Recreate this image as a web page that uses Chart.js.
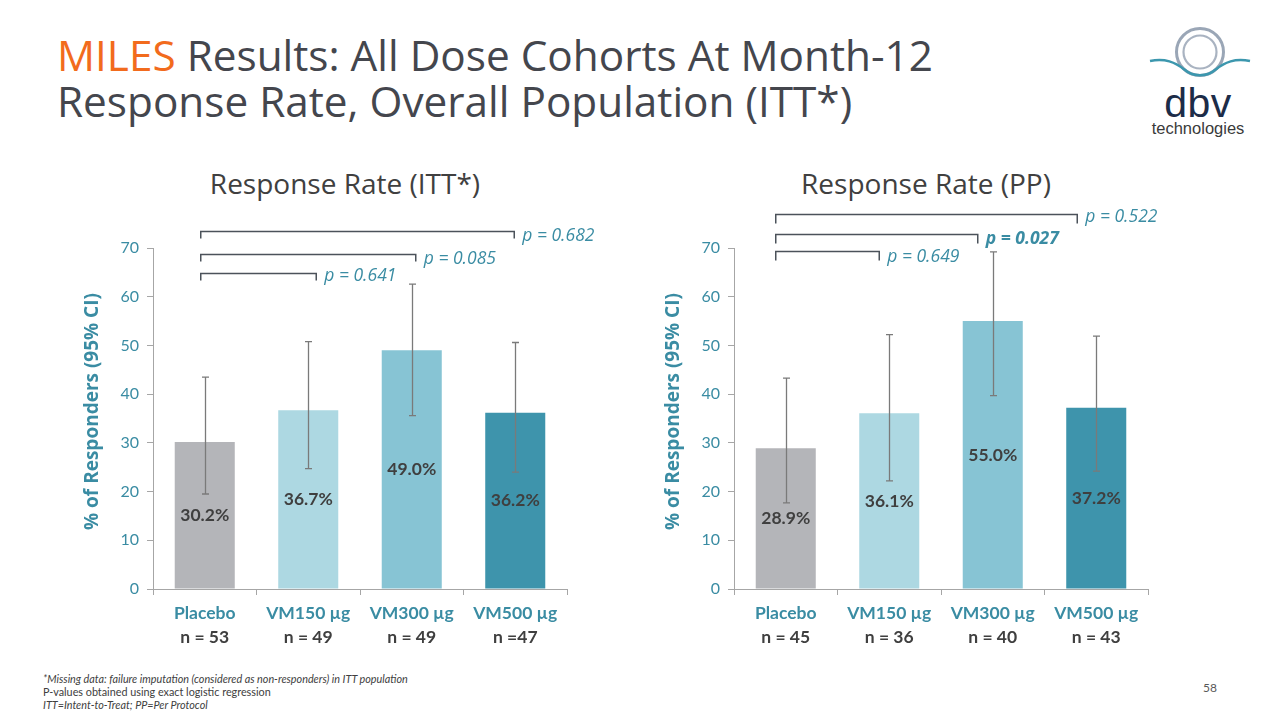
<!DOCTYPE html>
<html>
<head>
<meta charset="utf-8">
<script src="https://cdn.jsdelivr.net/npm/chart.js@4.4.1/dist/chart.umd.min.js"></script>
<style>
  html,body{margin:0;padding:0;}
  body{width:1280px;height:720px;background:#fff;position:relative;overflow:hidden;font-family:'Open Sans',sans-serif;}
  .abs{position:absolute;white-space:nowrap;}
  #title{left:57px;top:32px;font-size:42.3px;line-height:46px;color:#44464D;}
  #title .hl{color:#F26B1D;}
  .ctitle{font-size:28px;color:#404040;top:165px;line-height:36px;transform:translateX(-50%);}
  #foot{left:43px;top:672px;font-family:Lato,sans-serif;font-size:10.8px;line-height:13px;color:#404040;}
  #pg{left:1203px;top:680px;font-family:Lato,sans-serif;font-size:12px;color:#595959;}
  canvas{position:absolute;}
</style>
</head>
<body>
<div id="title" class="abs"><span class="hl">MILES</span> Results: All Dose Cohorts At Month-12<br>Response Rate, Overall Population (ITT*)</div>

<svg class="abs" style="left:1140px;top:20px" width="120" height="120" viewBox="0 0 120 120">
  <circle cx="60" cy="32" r="23.5" fill="none" stroke="#9AA6B6" stroke-width="3"/>
  <circle cx="60" cy="32" r="16.5" fill="none" stroke="#A9B3C1" stroke-width="2.2"/>
  <path d="M10,41 C25,38 35,42 45,50 C53,57 67,57 75,50 C85,42 95,38 110,41" fill="none" stroke="#3C97AE" stroke-width="2.6"/>
  <text x="58" y="97" text-anchor="middle" font-family="'Liberation Sans',Arial,sans-serif" font-size="41" fill="#1C2C48" letter-spacing="0.5">dbv</text>
  <text x="58" y="114" text-anchor="middle" font-family="'Liberation Sans',Arial,sans-serif" font-size="16.5" fill="#3A3A3A">technologies</text>
</svg>

<div class="abs ctitle" style="left:345px">Response Rate (ITT*)</div>
<div class="abs ctitle" style="left:926px">Response Rate (PP)</div>

<canvas id="c1" width="640" height="520" style="left:0px;top:150px;width:640px;height:520px"></canvas>
<canvas id="c2" width="640" height="520" style="left:581px;top:150px;width:640px;height:520px"></canvas>

<div id="foot" class="abs"><i>*Missing data: failure imputation (considered as non-responders) in ITT population</i><br>P-values obtained using exact logistic regression<br><i>ITT=Intent-to-Treat; PP=Per Protocol</i></div>
<div id="pg" class="abs">58</div>

<script>
// ---------------- DATA ----------------
const categories = ['Placebo', 'VM150 µg', 'VM300 µg', 'VM500 µg'];
const ittN = ['n = 53', 'n = 49', 'n = 49', 'n =47'];
const ppN  = ['n = 45', 'n = 36', 'n = 40', 'n = 43'];
const ittRate = [30.2, 36.7, 49.0, 36.2];
const ittLow  = [19.5, 24.7, 35.6, 24.0];
const ittHigh = [43.5, 50.8, 62.6, 50.6];
const ppRate  = [28.9, 36.1, 55.0, 37.2];
const ppLow   = [17.7, 22.2, 39.7, 24.2];
const ppHigh  = [43.3, 52.2, 69.2, 51.9];
const ittPValues = ['p = 0.641', 'p = 0.085', 'p = 0.682'];
const ppPValues  = ['p = 0.649', 'p = 0.027', 'p = 0.522'];
const ppPBold    = [false, true, false];
const comparedWith = [1, 2, 3]; // each p-value compares Placebo (0) with this category
const yMin = 0, yMax = 70, yStep = 10;

// ---------------- STYLE ----------------
const TEAL = '#3A8CA3';
const DARK = '#3F3F3F';
const barColors = ['#B4B5B9', '#ADD8E2', '#87C4D4', '#3E94AC'];
const AXIS = '#A6A6A6';

function makeChart(id, rates, lows, highs, nLabels, pLabels, pBold, bracket) {
  const overlay = {
    id: 'overlay',
    afterDatasetsDraw(chart) {
      const ctx = chart.ctx;
      const x = chart.scales.x, y = chart.scales.y;
      const meta = chart.getDatasetMeta(0);
      ctx.save();
      // error bars
      ctx.strokeStyle = '#7A7A7A';
      ctx.lineWidth = 1.3;
      meta.data.forEach((bar, i) => {
        const cx = Math.round(bar.x) + 0.5;
        const yl = y.getPixelForValue(lows[i]), yh = y.getPixelForValue(highs[i]);
        ctx.beginPath();
        ctx.moveTo(cx, yl); ctx.lineTo(cx, yh);
        ctx.moveTo(cx - 3.5, yl); ctx.lineTo(cx + 3.5, yl);
        ctx.moveTo(cx - 3.5, yh); ctx.lineTo(cx + 3.5, yh);
        ctx.stroke();
      });
      // value labels
      ctx.fillStyle = DARK;
      ctx.font = 'bold 17.5px Lato';
      ctx.textAlign = 'center';
      ctx.textBaseline = 'middle';
      meta.data.forEach((bar, i) => {
        ctx.fillText(rates[i].toFixed(1) + '%', bar.x, y.getPixelForValue(rates[i] / 2));
      });
      // n labels
      meta.data.forEach((bar, i) => {
        ctx.fillText(nLabels[i], bar.x, chart.chartArea.bottom + 48);
      });
      // y title
      ctx.save();
      ctx.translate(93, (chart.chartArea.top + chart.chartArea.bottom) / 2 - 7);
      ctx.rotate(-Math.PI / 2);
      ctx.fillStyle = TEAL;
      ctx.font = 'bold 19px "Open Sans"';
      ctx.fillText('% of Responders (95% CI)', 0, 0);
      ctx.restore();
      // brackets
      ctx.strokeStyle = '#4B525A';
      ctx.lineWidth = 1.5;
      const x0 = x.getPixelForValue(0) + bracket.dxLeft;
      pLabels.forEach((lab, k) => {
        const j = comparedWith[k];
        const x1 = x.getPixelForValue(j) + bracket.dxRight[k];
        const by = Math.round(y.getPixelForValue(bracket.levels[k])) + 0.5;
        ctx.beginPath();
        ctx.moveTo(x0, by + bracket.tick); ctx.lineTo(x0, by);
        ctx.lineTo(x1, by); ctx.lineTo(x1, by + bracket.tick);
        ctx.stroke();
        ctx.fillStyle = TEAL;
        ctx.font = (pBold[k] ? 'italic bold ' : 'italic ') + '17.5px "Open Sans"';
        ctx.textAlign = 'left';
        ctx.fillText(lab, x1 + bracket.textDx, by + bracket.textDy[k]);
      });
      ctx.restore();
    }
  };
  return new Chart(document.getElementById(id), {
    type: 'bar',
    data: {
      labels: categories,
      datasets: [{
        data: rates,
        backgroundColor: barColors,
        borderWidth: 0,
        categoryPercentage: 1,
        barPercentage: 0.58
      }]
    },
    options: {
      responsive: false,
      animation: false,
      devicePixelRatio: 1,
      layout: { padding: { left: 78, right: 73, top: 98, bottom: 0 } },
      plugins: { legend: { display: false }, tooltip: { enabled: false } },
      scales: {
        x: {
          afterFit: s => { s.height = 81; },
          grid: { display: true, drawOnChartArea: false, offset: true, tickLength: 6, color: AXIS, lineWidth: 1 },
          border: { color: AXIS, width: 1 },
          ticks: { color: TEAL, font: { family: 'Lato', weight: 'bold', size: 17.5 }, padding: 8, maxRotation: 0 }
        },
        y: {
          min: yMin, max: yMax,
          afterFit: s => { s.width = 75; },
          grid: { display: true, drawOnChartArea: false, tickLength: 6, color: AXIS, lineWidth: 1 },
          border: { color: AXIS, width: 1 },
          ticks: { stepSize: yStep, color: TEAL, font: { family: 'Lato', size: 16 }, padding: 8 }
        }
      }
    },
    plugins: [overlay]
  });
}

makeChart('c1', ittRate, ittLow, ittHigh, ittN, ittPValues, [false, false, false],
  { levels: [64.9, 68.8, 73.5], dxLeft: -4, dxRight: [8, 4, -1], tick: 7, textDx: 8, textDy: [3, 5, 5] });
makeChart('c2', ppRate, ppLow, ppHigh, ppN, ppPValues, ppPBold,
  { levels: [69.4, 72.9, 76.9], dxLeft: -10, dxRight: [-10, -15, -19], tick: 9, textDx: 8, textDy: [6, 5, 3] });
</script>
</body>
</html>
